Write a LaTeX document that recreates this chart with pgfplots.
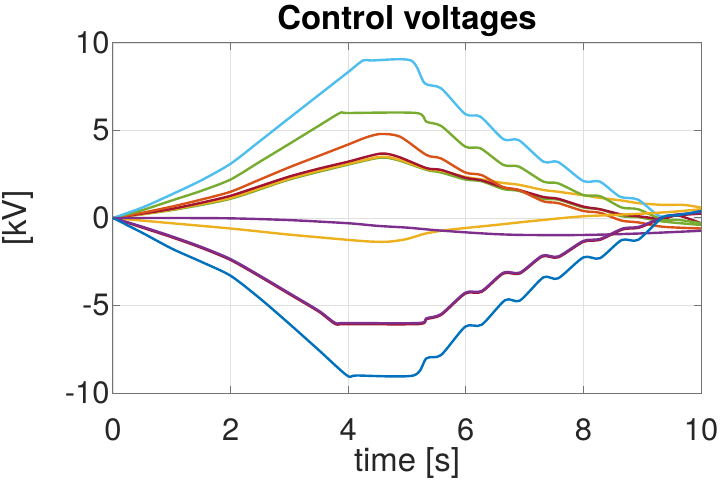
\documentclass[border=0pt]{standalone}
\usepackage{pgfplots}
\pgfplotsset{compat=1.18}
\usepackage{fontspec}
\setmainfont{TeX Gyre Heros}
\definecolor{mblue}{rgb}{0,0.447,0.741}
\definecolor{morange}{rgb}{0.850,0.325,0.098}
\definecolor{myellow}{rgb}{0.929,0.694,0.125}
\definecolor{mpurple}{rgb}{0.494,0.184,0.556}
\definecolor{mgreen}{rgb}{0.466,0.674,0.188}
\definecolor{mcyan}{rgb}{0.301,0.745,0.933}
\definecolor{mdred}{rgb}{0.635,0.078,0.184}
\begin{document}
\begin{tikzpicture}
\begin{axis}[
  width=588bp, height=350bp, scale only axis,
  xmin=0, xmax=10, ymin=-10, ymax=10,
  xtick={0,2,4,6,8,10}, ytick={-10,-5,0,5,10},
  grid=major, major grid style={line width=0.8bp, color=black!12},
  axis line style={line width=1bp, color=black!55},
  tick style={line width=1bp, color=black!55},
  tick align=inside, major tick length=7bp,
  /pgf/number format/assume math mode=true,
  ticklabel style={font=\fontsize{31}{34}\selectfont, text=black!85},
  xticklabel style={anchor=base, yshift=-47bp},
  title={Control voltages},
  title style={font=\fontsize{33}{36}\selectfont\bfseries, at={(axis description cs:0.5,1)}, anchor=base, yshift=8bp},
  xlabel={time [s]},
  xlabel style={font=\fontsize{33}{36}\selectfont, text=black!85, at={(axis description cs:0.5,0)}, anchor=base, yshift=-78bp},
  ylabel={[kV]},
  ylabel style={font=\fontsize{33}{36}\selectfont, text=black!85, at={(axis description cs:-0.1616,0.5)}, anchor=center},
  every axis plot/.append style={line width=2.4bp, line join=round, no markers, smooth, tension=0.45},
]
% green (lower, mostly hidden)
\addplot[mgreen] coordinates {(0,0)(1,0.45)(2,1.1)(3,2.2)(4,3.05)(4.55,3.45)(4.85,3.3)(5.33,2.75)(5.58,2.6)(5.99,2.2)(6.27,2.1)(6.64,1.65)(6.9,1.55)(7.32,1.1)(7.57,1.05)(8.0,0.6)(8.28,0.5)(8.65,0.1)(8.93,0.05)(9.35,-0.2)(10,-0.4)};
% yellow upper
\addplot[myellow] coordinates {(0,0)(0.5,0.22)(1,0.48)(1.5,0.8)(2,1.15)(2.5,1.7)(3,2.25)(3.5,2.7)(4,3.1)(4.55,3.5)(4.85,3.35)(5.33,2.8)(5.58,2.7)(5.99,2.35)(6.27,2.2)(6.64,2.0)(6.9,1.9)(7.32,1.6)(7.57,1.5)(8.0,1.3)(8.28,1.15)(8.65,1.0)(8.93,0.85)(9.35,0.75)(9.7,0.75)(10,0.6)};
% dark red
\addplot[mdred] coordinates {(0,0)(0.5,0.25)(1,0.52)(1.5,0.87)(2,1.27)(2.5,1.82)(3,2.37)(3.5,2.82)(4,3.22)(4.55,3.68)(4.85,3.5)(5.33,2.85)(5.58,2.75)(5.99,2.3)(6.27,2.15)(6.64,1.75)(6.9,1.6)(7.32,1.2)(7.57,1.1)(8.0,0.65)(8.28,0.5)(8.65,0.2)(8.93,0.1)(9.35,-0.05)(9.6,0.15)(10,-0.3)};
% orange
\addplot[morange] coordinates {(0,0)(0.5,0.3)(1,0.65)(1.5,1.05)(2,1.5)(2.5,2.2)(3,2.9)(3.5,3.55)(4,4.2)(4.3,4.6)(4.55,4.8)(4.88,4.65)(5.33,3.6)(5.58,3.4)(5.99,2.6)(6.27,2.45)(6.64,1.75)(6.9,1.6)(7.32,0.95)(7.57,0.85)(8.0,0.4)(8.28,0.3)(8.65,-0.15)(8.93,-0.25)(9.35,-0.5)(10,-0.6)};
% green upper (6)
\addplot[mgreen] coordinates {(0,0)(0.5,0.45)(1,1.0)(1.5,1.55)(2,2.2)(2.5,3.22)(3,4.24)(3.5,5.27)(3.86,6)(4.0,6)(5.16,6)(5.33,5.5)(5.58,5.26)(5.99,4.08)(6.25,3.98)(6.64,3.03)(6.9,2.94)(7.32,2.08)(7.57,1.98)(8.0,1.31)(8.28,1.25)(8.65,0.6)(8.93,0.5)(9.35,-0.1)(9.6,-0.1)(10,-0.3)};
% cyan (9)
\addplot[mcyan] coordinates {(0,0)(0.5,0.6)(1,1.35)(1.5,2.15)(2,3.1)(2.5,4.4)(3,5.72)(3.5,7.03)(4.0,8.34)(4.25,9)(4.4,9)(5.07,9)(5.3,7.7)(5.58,7.41)(5.99,5.94)(6.25,5.79)(6.64,4.5)(6.9,4.45)(7.32,3.22)(7.57,3.2)(8.0,2.11)(8.28,2.08)(8.62,1.22)(8.93,1.05)(9.3,0.1)(9.6,0.2)(10,0.3)};
% yellow negative
\addplot[myellow] coordinates {(0,0)(0.5,-0.15)(1,-0.3)(2,-0.6)(3,-0.95)(4,-1.25)(4.4,-1.35)(4.7,-1.35)(5,-1.2)(5.3,-0.9)(5.6,-0.72)(6,-0.57)(6.5,-0.4)(7,-0.22)(7.5,-0.05)(8,0.1)(8.5,0.17)(9,0.25)(9.5,0.35)(10,0.5)};
% purple near zero
\addplot[mpurple] coordinates {(0,0)(1,0)(2,-0.02)(3,-0.12)(4,-0.3)(4.5,-0.45)(5,-0.55)(5.5,-0.7)(6,-0.82)(6.5,-0.92)(7,-0.97)(8,-0.97)(9,-0.88)(10,-0.73)};
% dark red under purple -6
\addplot[mdred] coordinates {(0,0)(0.5,-0.55)(1,-1.1)(1.5,-1.7)(2,-2.4)(2.5,-3.35)(3,-4.35)(3.5,-5.35)(3.78,-6.06)(3.95,-6.06)(5.2,-6.06)(5.33,-5.78)(5.58,-5.54)(5.99,-4.32)(6.27,-4.22)(6.64,-3.17)(6.92,-3.17)(7.3,-2.2)(7.57,-2.25)(8.0,-1.36)(8.28,-1.25)(8.67,-0.65)(8.95,-0.55)(9.35,0.0)(9.6,0.15)(10,0.25)};
% purple -6
\addplot[mpurple] coordinates {(0,0)(0.5,-0.5)(1,-1.05)(1.5,-1.65)(2,-2.35)(2.5,-3.3)(3,-4.3)(3.5,-5.3)(3.78,-6)(3.95,-6)(5.2,-6)(5.33,-5.73)(5.58,-5.49)(5.99,-4.27)(6.27,-4.17)(6.64,-3.12)(6.92,-3.12)(7.3,-2.15)(7.57,-2.2)(8.0,-1.31)(8.28,-1.2)(8.67,-0.6)(8.95,-0.5)(9.35,0.05)(9.6,0.2)(10,0.3)};
% blue -9
\addplot[mblue] coordinates {(0,0)(0.5,-0.85)(1,-1.75)(1.5,-2.5)(2,-3.3)(2.5,-4.6)(3,-6.05)(3.5,-7.55)(3.98,-9)(4.15,-9)(5.11,-9)(5.33,-8.02)(5.58,-7.83)(5.99,-6.21)(6.27,-6.1)(6.67,-4.69)(6.92,-4.72)(7.32,-3.39)(7.57,-3.45)(8.0,-2.25)(8.28,-2.3)(8.65,-1.26)(8.93,-1.25)(9.35,0.05)(9.6,0.15)(10,0.4)};
\coordinate (bl) at (rel axis cs:0,0);
\coordinate (tr) at (rel axis cs:1,1);
\end{axis}
\pgfresetboundingbox
\path ([shift={(-113bp,-89bp)}]bl) rectangle ([shift={(19bp,43bp)}]tr);
\end{tikzpicture}
\end{document}
